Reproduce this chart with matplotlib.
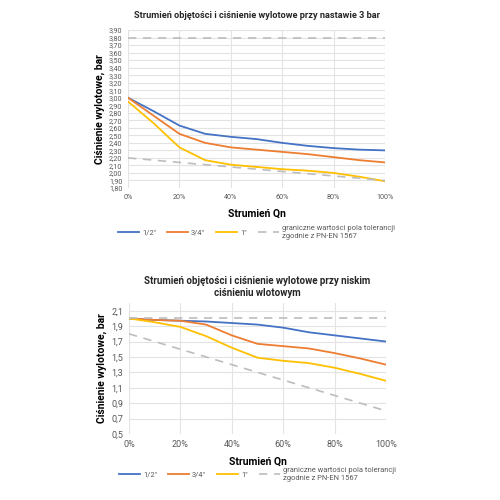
import numpy as np
import matplotlib.pyplot as plt
from matplotlib.ticker import FuncFormatter

plt.rcParams['font.family'] = ['Roboto', 'DejaVu Sans']

qn = [0, 10, 20, 30, 40, 50, 60, 70, 80, 90, 100]

# chart 1: nastawa 3 bar
top_12 = [3.00, 2.82, 2.63, 2.52, 2.48, 2.45, 2.40, 2.36, 2.33, 2.31, 2.30]
top_34 = [3.00, 2.76, 2.52, 2.40, 2.34, 2.31, 2.28, 2.25, 2.21, 2.17, 2.14]
top_1 = [2.95, 2.66, 2.34, 2.17, 2.11, 2.08, 2.05, 2.03, 2.00, 1.95, 1.89]
top_tol_hi = [3.80, 3.80]
top_tol_lo = [2.20, 1.90]

# chart 2: niskie cisnienie wlotowe
low_12 = [2.00, 1.98, 1.97, 1.96, 1.94, 1.92, 1.88, 1.82, 1.78, 1.74, 1.70]
low_34 = [2.00, 1.98, 1.97, 1.92, 1.78, 1.67, 1.64, 1.61, 1.55, 1.48, 1.40]
low_1 = [2.00, 1.95, 1.89, 1.77, 1.62, 1.49, 1.45, 1.42, 1.36, 1.28, 1.19]
low_tol_hi = [2.00, 2.00]
low_tol_lo = [1.80, 0.80]
tol_x = [0, 100]

labels = ['1/2"', '3/4"', '1"', 'graniczne wartości pola tolerancji\nzgodnie z PN-EN 1567']
colors = ['#4472C4', '#ED7D31', '#FFC000']
gray = '#BDBDBD'

fig = plt.figure(figsize=(5, 5), dpi=100)
ax1 = fig.add_axes([0.256, 0.624, 0.514, 0.316])
ax2 = fig.add_axes([0.258, 0.132, 0.514, 0.262])


def style(ax, yticks, fmt, fs):
    ax.set_xlim(0, 100)
    ax.set_xticks([0, 20, 40, 60, 80, 100])
    ax.xaxis.set_major_formatter(FuncFormatter(lambda v, p: '%d%%' % v))
    ax.set_yticks(yticks)
    ax.yaxis.set_major_formatter(FuncFormatter(lambda v, p: (fmt % v).replace('.', ',')))
    ax.grid(True, color='#E3E3E3', linewidth=0.8)
    ax.set_axisbelow(True)
    for s in ax.spines.values():
        s.set_visible(False)
    ax.tick_params(length=0, labelsize=fs, colors='#595959', pad=4)
    ax.set_xlabel('Strumień Qn', fontsize=7.5, fontweight='bold', labelpad=6)
    ax.set_ylabel('Ciśnienie wylotowe, bar', fontsize=7.5, fontweight='bold', labelpad=3)


def draw(ax, s12, s34, s1, hi, lo):
    ax.plot(qn, s12, color=colors[0], lw=1.3, label=labels[0])
    ax.plot(qn, s34, color=colors[1], lw=1.3, label=labels[1])
    ax.plot(qn, s1, color=colors[2], lw=1.3, label=labels[2])
    ax.plot(tol_x, hi, color=gray, lw=1.2, ls=(0, (5, 4)), label=labels[3])
    ax.plot(tol_x, lo, color=gray, lw=1.2, ls=(0, (5, 4)))


def legend(ax, y):
    ax.legend(loc='upper center', bbox_to_anchor=(0.5, y), ncol=4, frameon=False,
              fontsize=5.4, handlelength=2.8, handletextpad=0.4, columnspacing=1.5,
              labelcolor='#595959')


draw(ax1, top_12, top_34, top_1, top_tol_hi, top_tol_lo)
ax1.set_ylim(1.80, 3.90)
style(ax1, np.round(np.arange(1.80, 3.91, 0.10), 2), '%.2f', 5.2)
ax1.set_title('Strumień objętości i ciśnienie wylotowe przy nastawie 3 bar',
              fontsize=6.6, fontweight='bold', color='#262626', pad=9)
legend(ax1, -0.19)

draw(ax2, low_12, low_34, low_1, low_tol_hi, low_tol_lo)
ax2.set_ylim(0.5, 2.2)
style(ax2, np.round(np.arange(0.5, 2.11, 0.2), 1), '%.1f', 6.5)
ax2.set_title('Strumień objętości i ciśnienie wylotowe przy niskim\nciśnieniu wlotowym',
              fontsize=7, fontweight='bold', color='#262626', pad=5)
legend(ax2, -0.20)

fig.savefig('out.png', dpi=100, facecolor='white')
